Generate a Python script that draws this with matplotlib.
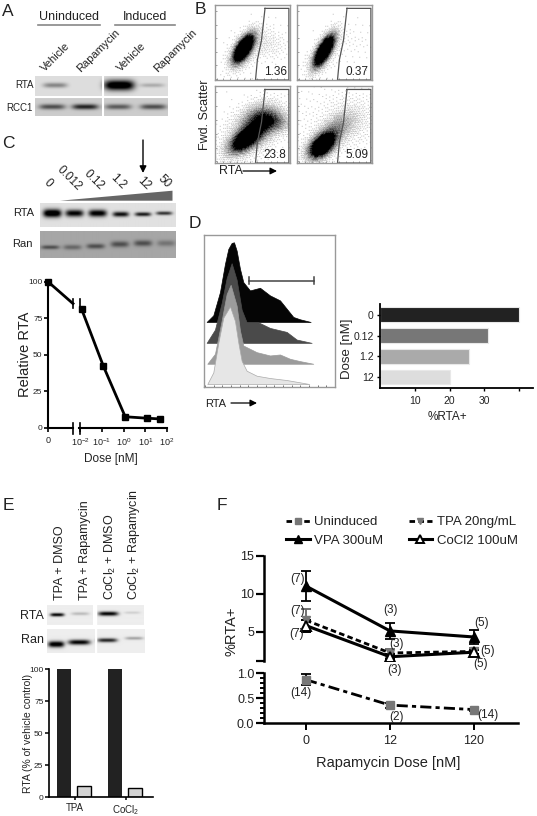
import numpy as np
import matplotlib
matplotlib.use('Agg')
import matplotlib.pyplot as plt
from matplotlib.lines import Line2D

plt.rcParams['font.family'] = ['Liberation Sans', 'DejaVu Sans']
plt.rcParams['mathtext.default'] = 'regular'
plt.rcParams['text.color'] = '#222222'
plt.rcParams['axes.labelcolor'] = '#222222'
plt.rcParams['xtick.labelcolor'] = '#222222'
plt.rcParams['ytick.labelcolor'] = '#222222'

W, H = 537, 816

# blots: band = (x px, y px, half width, half height, darkness)
a_rta = [(55, 85, 12, 2.5, .35), (119, 85, 15, 5, 1.1), (152, 85, 12, 2, .2)]
a_rcc1 = [(52, 107, 13, 2.5, .5), (85, 107, 13, 2.5, .68), (118, 107, 13, 2.5, .45), (153, 107, 13, 2.5, .5)]
c_rta = [(52, 213, 9, 4, 1.1), (74, 213, 9, 3.5, .9), (97, 213, 9, 3.5, .95),
         (120, 214, 8, 2.5, .85), (142, 214, 8, 2, .8), (163, 213, 8, 1.8, .7)]
c_ran = [(50, 247, 9, 2, .35), (72, 247, 9, 2.5, .25), (95, 246, 9, 2.5, .35),
         (119, 244, 9, 3, .35), (142, 243, 9, 3, .35), (165, 243, 9, 3, .2)]
e_rta = [(57, 615, 7, 1.6, .95), (80, 614, 9, 1.5, .2), (108, 614, 10, 2, .95), (132, 613, 8, 1.2, .12)]
e_ran = [(56, 644, 8, 3, 1.05), (79, 642, 11, 2.5, .95), (107, 640, 10, 2, .8), (134, 638, 9, 1.5, .3)]

# flow clouds: (x, y, sigma major, sigma minor, angle deg, weight)
flow_1 = [(.38, .42, .135, .06, 58, 1.6), (.40, .38, .2, .11, 55, .12), (.72, .48, .13, .16, 70, .07)]
flow_2 = [(.36, .39, .15, .055, 60, 1.5), (.36, .35, .2, .1, 58, .12), (.78, .50, .15, .2, 70, .02)]
flow_3 = [(.40, .30, .16, .08, 35, 1.0), (.58, .52, .18, .13, 35, .5), (.76, .55, .09, .16, 80, .35),
          (.45, .35, .3, .2, 30, .08)]
flow_4 = [(.33, .22, .13, .08, 40, 1.3), (.50, .42, .18, .1, 40, .3), (.75, .55, .18, .18, 50, .07),
          (.4, .5, .5, .35, 30, .025)]
flow_values = ['1.36', '0.37', '23.8', '5.09']
gate_x = [.667, .62, .565, .54]
gate_y = [.955, .53, .267, 0]

# C
c_doses = [0.012, 0.12, 1.2, 12, 50]
c_rel = [81, 42, 7.5, 6.5, 6]
c_zero = 100
c_break = 85
c_labels = ['0', '0.012', '0.12', '1.2', '12', '50']

# D histograms
hist_base = [337, 400, 463, 524]
hist_colors = ['#050505', '#4a4a4a', '#9b9b9b', '#e6e6e6']
hist_x = [
    [50, 70, 90, 105, 115, 125, 132, 140, 150, 160, 180, 210, 240, 270, 290, 310, 330, 362],
    [50, 75, 95, 110, 125, 140, 155, 170, 205, 240, 290, 320, 365],
    [52, 75, 95, 110, 122, 140, 150, 160, 200, 240, 270, 300, 330, 370],
    [52, 70, 85, 100, 120, 135, 145, 155, 170, 200, 240, 290, 330, 358],
]
hist_h = [
    [0, 20, 90, 175, 220, 238, 240, 215, 160, 120, 95, 103, 80, 65, 40, 15, 8, 0],
    [0, 40, 120, 195, 240, 190, 100, 62, 62, 45, 33, 10, 0],
    [0, 30, 130, 210, 238, 175, 100, 55, 35, 25, 28, 15, 8, 0],
    [0, 35, 124, 200, 234, 190, 125, 70, 40, 25, 18, 12, 5, 0],
]
d_doses = ['0', '0.12', '1.2', '12']
d_pct = [40, 31, 25.5, 20]
d_colors = ['#222222', '#777777', '#aaaaaa', '#dddddd']

# E bars
e_groups = ['TPA', 'CoCl$_2$']
e_dmso = [100, 100]
e_rapa = [8.5, 7]

# F
f_x = [0, 1, 2]
f_xlabels = ['0', '12', '120']
uninduced = [.87, .36, .27]
uninduced_err = [.11, .05, .02]
tpa = [6.5, 2.2, 2.4]
tpa_err = [1.5, .5, .5]
vpa = [11, 5.1, 4.3]
vpa_err = [2.0, 1.0, .9]
cocl2 = [5.8, 1.7, 2.3]
cocl2_err = [.8, .3, .3]
f_counts = [('(7)', 298, 579), ('(7)', 298, 611), ('(7)', 297, 634), ('(3)', 391, 610), ('(3)', 397, 644),
            ('(5)', 482, 623), ('(5)', 488, 651), ('(3)', 394, 670), ('(5)', 481, 664),
            ('(14)', 301, 693), ('(2)', 396, 717), ('(14)', 488, 715)]


def axpx(l, t, r, b):
    return fig.add_axes([l / W, 1 - b / H, (r - l) / W, (b - t) / H])


def gel(l, t, r, b, bg, bands):
    ax = axpx(l, t, r, b)
    x, y = np.meshgrid(np.arange(l, r, .5), np.arange(t, b, .5))
    img = np.full(x.shape, float(bg))
    for cx, cy, wx, wy, dark in bands:
        img -= dark * np.exp(-((x - cx) / wx) ** 4) * np.exp(-((y - cy) / wy) ** 2)
    ax.imshow(np.clip(img, 0, 1), cmap='gray', vmin=0, vmax=1, extent=(l, r, b, t),
              aspect='auto', interpolation='bilinear')
    ax.axis('off')
    return ax


def flow(l, t, r, b, clouds, value):
    ax = axpx(l, t, r, b)
    x, y = np.meshgrid(np.linspace(0, 1, 150), np.linspace(0, 1, 150))
    dens = np.zeros(x.shape)
    for cx, cy, s1, s2, ang, w in clouds:
        c, s = np.cos(np.radians(ang)), np.sin(np.radians(ang))
        u = (x - cx) * c + (y - cy) * s
        v = -(x - cx) * s + (y - cy) * c
        dens += w * np.exp(-.5 * (u / s1) ** 2 - .5 * (v / s2) ** 2)
    # low discrepancy threshold gives the stippled look of the dot plots
    i, j = np.meshgrid(np.arange(150), np.arange(150))
    thresh = (i * .7548777 + j * .5698403) % 1
    prob = np.clip(dens * 1.5, 0, 1) ** 1.2
    ax.imshow(prob < thresh, cmap='gray', vmin=0, vmax=1, extent=(0, 1, 0, 1),
              origin='lower', aspect='auto', interpolation='bilinear')
    ax.plot(gate_x + [.985, .985, gate_x[0]], gate_y + [0, .955, .955], color='#555555', lw=.9)
    ax.text(.955, .105, value, ha='right', va='center', fontsize=8.5)
    ax.set_xlim(0, 1)
    ax.set_ylim(0, 1)
    ax.set_xticks(np.arange(.02, 1, .09))
    ax.set_yticks(np.arange(.02, 1, .18))
    ax.set_xticklabels([])
    ax.set_yticklabels([])
    ax.tick_params(length=1.5, width=.5, color='#777777', direction='in')
    for s in ax.spines.values():
        s.set_color('#999999')
        s.set_linewidth(1)
    return ax


fig = plt.figure(figsize=(W / 100, H / 100), dpi=100)

# A
gel(35, 76, 102, 96, .87, a_rta)
gel(103, 76, 168, 96, .87, a_rta)
gel(35, 97, 102, 116, .8, a_rcc1)
gel(103, 97, 168, 116, .8, a_rcc1)

# B
flow(215, 5, 290, 80, flow_1, flow_values[0])
flow(297, 5, 372, 80, flow_2, flow_values[1])
flow(215, 86, 290, 163, flow_3, flow_values[2])
flow(297, 86, 372, 163, flow_4, flow_values[3])

# C blots
gel(40, 203, 175, 227, .88, c_rta)
gel(40, 231, 175, 258, .65, c_ran)

# C curve with broken x axis
c_left = axpx(48, 281.7, 73, 427.7)
c_left.plot([0, 1], [c_zero, c_break], color='black', lw=2, clip_on=False)
c_left.plot([0], [c_zero], 's', color='black', ms=4, clip_on=False)
c_left.set_xlim(0, 1)
c_left.set_ylim(0, 100)
c_left.set_xticks([0])
c_left.set_xticklabels(['0'], fontsize=6.5)
c_left.set_yticks([0, 25, 50, 75, 100])
c_left.tick_params(axis='y', labelsize=6, length=3, width=1.2, pad=1)
c_left.tick_params(axis='x', length=3, width=1.2, pad=3)
c_left.spines['top'].set_visible(False)
c_left.spines['right'].set_visible(False)
for s in c_left.spines.values():
    s.set_linewidth(1.5)
c_left.patch.set_alpha(0)
c_left.set_ylabel('Relative RTA', fontsize=10.5, labelpad=-3)

c_right = axpx(79, 281.7, 167, 427.7)
c_right.plot(c_doses, c_rel, '-s', color='black', lw=2, ms=4, clip_on=False)
c_right.set_xscale('log')
c_right.set_xlim(10 ** (-2 - 1 / 21.67), 100)
c_right.set_ylim(0, 100)
c_right.set_xticks([.01, .1, 1, 10, 100])
c_right.set_xticklabels(['$10^{-2}$', '$10^{-1}$', '$10^{0}$', '$10^{1}$', '$10^{2}$'], fontsize=6.5)
c_right.minorticks_off()
c_right.set_yticks([])
c_right.tick_params(axis='x', length=3, width=1.2, pad=3)
c_right.spines['top'].set_visible(False)
c_right.spines['right'].set_visible(False)
c_right.spines['left'].set_visible(False)
c_right.spines['bottom'].set_linewidth(1.5)
c_right.patch.set_alpha(0)
c_right.set_xlabel('Dose [nM]', fontsize=8.5, labelpad=4, x=.36)

# D histograms
d_hist = axpx(204.3, 235, 335, 387)
for base, col, hx, hy in zip(hist_base, hist_colors, hist_x, hist_h):
    d_hist.fill_between(hx, base - np.array(hy), base, color=col, lw=.5,
                        edgecolor='#aaaaaa' if col == '#e6e6e6' else col)
d_hist.plot([178, 373], [213, 213], color='#444444', lw=1.1)
d_hist.plot([178, 178], [203, 223], color='#444444', lw=1.1)
d_hist.plot([373, 373], [203, 223], color='#444444', lw=1.1)
d_hist.set_xlim(43, 435)
d_hist.set_ylim(533, 75)
d_hist.set_xticks(np.arange(45, 435, 26))
d_hist.set_yticks([])
d_hist.set_xticklabels([])
d_hist.tick_params(length=1.5, width=.6, color='#555555', direction='in')
for s in d_hist.spines.values():
    s.set_color('#999999')
    s.set_linewidth(1)

# D bars
d_bar = axpx(380, 304, 533, 388)
d_pos = [.07, 1.2, 2.29, 3.41]
d_bar.barh(d_pos, d_pct, height=.8, color=d_colors, edgecolor='#e8e8e8', lw=.8)
d_bar.set_yticks(d_pos)
d_bar.set_yticklabels(d_doses, fontsize=7.5)
d_bar.set_ylim(4, -.5)
d_bar.set_xlim(0, 44)
d_bar.set_xticks([10, 20, 30, 40])
d_bar.set_xticklabels(['10', '20', '30', ''], fontsize=7.5)
d_bar.tick_params(length=2.5, width=1, pad=2)
d_bar.tick_params(axis='x', pad=3)
d_bar.spines['top'].set_visible(False)
d_bar.spines['right'].set_visible(False)
d_bar.spines['left'].set_linewidth(1.3)
d_bar.spines['bottom'].set_linewidth(1.3)
d_bar.set_xlabel('%RTA+', fontsize=8.5, labelpad=4, x=.444)
d_bar.set_ylabel('Dose [nM]', fontsize=9.5, labelpad=0, y=.47)

# E blots
gel(47, 605, 93, 625, .93, e_rta)
gel(96, 605, 144, 625, .93, e_rta)
gel(47, 629, 95, 653, .93, e_ran)
gel(96, 629, 145, 653, .93, e_ran)

# E bars
e_bar = axpx(49, 669, 153, 797)
e_pos = np.array([75, 126])
e_bar.bar(e_pos - 11, e_dmso, width=13.7, color='#222222')
e_bar.bar(e_pos + 9, e_rapa, width=13.2, color='#d4d4d4', edgecolor='black', lw=1)
e_bar.set_xlim(49, 153)
e_bar.set_ylim(0, 100)
e_bar.set_xticks(e_pos)
e_bar.set_xticklabels(e_groups, fontsize=7)
e_bar.set_yticks([0, 25, 50, 75, 100])
e_bar.tick_params(axis='y', labelsize=6, length=3, width=1.1, pad=1)
e_bar.tick_params(axis='x', length=2.5, width=1.1, pad=2)
e_bar.spines['top'].set_visible(False)
e_bar.spines['right'].set_visible(False)
e_bar.spines['left'].set_linewidth(1.2)
e_bar.spines['bottom'].set_linewidth(1.2)
e_bar.set_ylabel('RTA (% of vehicle control)', fontsize=7.5, labelpad=-2.5)

# F broken y axis
f_top = axpx(264, 555.7, 518, 661)
f_bot = axpx(264, 673.3, 518, 723)
f_xlim = (-.5, 2.524)
err_kw = dict(capsize=3.5, capthick=1.3, elinewidth=1.3)
f_top.errorbar(f_x, tpa, yerr=tpa_err, color='black', ecolor='#666666', lw=2, ls=(0, (2, 1.2)), marker='v',
               mfc='#777777', mec='#777777', ms=6, **err_kw)
f_top.errorbar(f_x, vpa, yerr=vpa_err, color='black', lw=2.2, marker='^', ms=7, **err_kw)
f_top.errorbar(f_x, cocl2, yerr=cocl2_err, color='black', lw=2.2, marker='^', mfc='white', mew=1.4, ms=7, **err_kw)
f_top.set_xlim(f_xlim)
f_top.set_ylim(1.14, 15)
f_top.set_yticks([1.14, 5, 10, 15])
f_top.set_yticklabels(['', '5', '10', '15'], fontsize=9)
f_top.tick_params(axis='y', length=6, width=1.6, pad=1)
f_top.set_xticks([])
for name in ['top', 'right', 'bottom']:
    f_top.spines[name].set_visible(False)
f_top.spines['left'].set_linewidth(1.8)
f_top.patch.set_alpha(0)
f_top.set_ylabel('%RTA+', fontsize=10.5, labelpad=1, y=.285)

f_bot.errorbar(f_x, uninduced, yerr=uninduced_err, color='black', lw=2, ls=(0, (4, 1.5, 1.5, 1.5)), marker='s',
               mfc='#777777', mec='#777777', ms=6, **err_kw)
f_bot.set_xlim(f_xlim)
f_bot.set_ylim(0, 1)
f_bot.set_yticks([0, .5, 1])
f_bot.set_yticklabels(['0.0', '0.5', '1.0'], fontsize=9)
f_bot.set_yticks(np.arange(0, 1, .1), minor=True)
f_bot.tick_params(axis='y', which='major', length=6, width=1.6, pad=1)
f_bot.tick_params(axis='y', which='minor', length=3, width=1.4)
f_bot.set_xticks(f_x)
f_bot.set_xticklabels(f_xlabels, fontsize=9)
f_bot.tick_params(axis='x', length=5, width=1.4, pad=4)
f_bot.spines['top'].set_visible(False)
f_bot.spines['right'].set_visible(False)
f_bot.spines['left'].set_linewidth(1.8)
f_bot.spines['bottom'].set_linewidth(1.8)
f_bot.patch.set_alpha(0)
f_bot.set_xlabel('Rapamycin Dose [nM]', fontsize=10.5, labelpad=6, x=.488)

f_handles = [
    Line2D([], [], color='black', lw=2, ls=(0, (2, 1.2)), marker='s', mfc='#777777', mec='#777777', ms=5),
    Line2D([], [], color='black', lw=2.2, marker='^', ms=6),
    Line2D([], [], color='black', lw=2, ls=(0, (2, 1.2)), marker='v', mfc='#777777', mec='#777777', ms=5),
    Line2D([], [], color='black', lw=2.2, marker='^', mfc='white', mew=1.4, ms=6),
]
fig.legend(f_handles, ['Uninduced', 'VPA 300uM', 'TPA 20ng/mL', 'CoCl2 100uM'], ncol=2, frameon=False,
           fontsize=9.5, loc='upper left', bbox_to_anchor=(286 / W, 1 - 516 / H), handlelength=1.8,
           handletextpad=.35, columnspacing=1.9, labelspacing=.5, borderaxespad=0, borderpad=0)

# text, arrows and labels placed in figure pixels
ov = fig.add_axes([0, 0, 1, 1], zorder=10)
ov.set_xlim(0, W)
ov.set_ylim(H, 0)
ov.axis('off')
ov.patch.set_alpha(0)

for letter, x, y in [('A', 8, 11), ('B', 200, 10), ('C', 8, 143), ('D', 195, 224), ('E', 8, 506), ('F', 222, 506)]:
    ov.text(x, y, letter, fontsize=12.5, ha='center', va='center')

ov.text(69, 17, 'Uninduced', fontsize=9, ha='center', va='center')
ov.text(145, 17, 'Induced', fontsize=9, ha='center', va='center')
ov.plot([38, 100], [24.5, 24.5], color='#888888', lw=1.2)
ov.plot([115, 175], [24.5, 24.5], color='#888888', lw=1.2)
for label, x in zip(['Vehicle', 'Rapamycin', 'Vehicle', 'Rapamycin'], [43, 79, 119, 156]):
    ov.text(x, 70, label, fontsize=8, rotation=45, rotation_mode='anchor', ha='left', va='center')
ov.text(34, 85, 'RTA', fontsize=7, ha='right', va='center')
ov.text(33, 108, 'RCC1', fontsize=7, ha='right', va='center')
ov.plot([102.5, 102.5], [76, 116], color='white', lw=.8)
ov.plot([35, 168], [96.5, 96.5], color='white', lw=.8)

ov.text(205, 115, 'Fwd. Scatter', fontsize=9, rotation=90, ha='center', va='center')
ov.text(219, 171, 'RTA', fontsize=9, ha='left', va='center')
ov.annotate('', xy=(277, 171), xytext=(243, 171), arrowprops=dict(arrowstyle='-|>', color='black', lw=.9, shrinkA=0, shrinkB=0))

# C wedge drawn over the blots
ov.fill([60, 172.5, 172.5], [200.7, 190.7, 200.7], color='#666666', lw=0)
for label, x, y in zip(c_labels, [46, 59, 86, 112, 139, 160], [181, 168, 172, 176, 179, 177]):
    ov.text(x, y, label, fontsize=8.5, rotation=-45, rotation_mode='anchor', ha='left', va='center')
ov.annotate('', xy=(143, 173), xytext=(143, 140), arrowprops=dict(arrowstyle='-|>', color='black', lw=1, shrinkA=0, shrinkB=0))
ov.text(34, 213, 'RTA', fontsize=8, ha='right', va='center')
ov.text(33, 244, 'Ran', fontsize=8, ha='right', va='center')
for x in [73, 79.5]:
    ov.plot([x, x], [423, 434], color='black', lw=1.2)
    ov.plot([x, x], [299, 308], color='black', lw=1.2)

ov.text(205, 404, 'RTA', fontsize=8, ha='left', va='center')
ov.annotate('', xy=(257, 403), xytext=(231, 403), arrowprops=dict(arrowstyle='-|>', color='black', lw=.9, shrinkA=0, shrinkB=0))

for label, x in zip(['TPA + DMSO', 'TPA + Rapamycin', 'CoCl$_2$ + DMSO', 'CoCl$_2$ + Rapamycin'], [60, 85, 110, 134]):
    ov.text(x, 600, label, fontsize=9, rotation=90, ha='center', va='bottom')
ov.text(44, 616, 'RTA', fontsize=9, ha='right', va='center')
ov.text(44, 640, 'Ran', fontsize=9, ha='right', va='center')
ov.plot([95.5, 95.5], [605, 653], color='white', lw=1)

for label, x, y in f_counts:
    ov.text(x, y, label, fontsize=8.5, ha='center', va='center')

fig.savefig('out.png', dpi=100)
